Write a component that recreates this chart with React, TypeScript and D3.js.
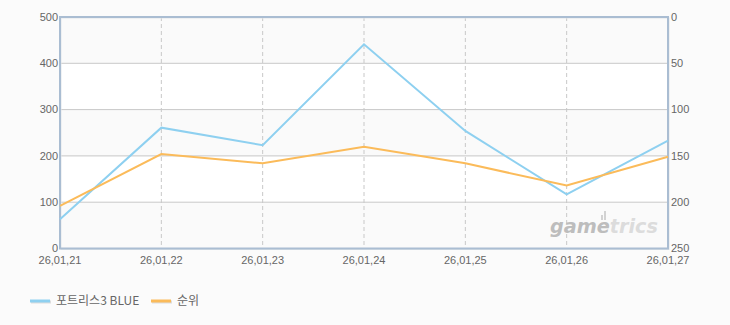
import React from "react";
import * as d3 from "d3";

const categories = ["26,01,21", "26,01,22", "26,01,23", "26,01,24", "26,01,25", "26,01,26", "26,01,27"];
const blueSeries = [63, 261, 223, 441, 254, 117, 233];
const rankSeries = [204, 148, 158, 140, 158, 182, 151];
const leftTicks = [0, 100, 200, 300, 400, 500];
const rightTicks = [0, 50, 100, 150, 200, 250];
const seriesNames = ["포트리스3 BLUE", "순위"];

const W = 730, H = 325;
const L = 60, R = 668, T = 17, B = 248.5;
const BLUE = "#8ed0f0";
const ORANGE = "#fbbb5a";
const FONT = "'Liberation Sans', Arial, sans-serif";

export default function App() {
  const x = d3.scalePoint<string>().domain(categories).range([L, R]);
  const yL = d3.scaleLinear().domain([0, 500]).range([B, T]);
  const yR = d3.scaleLinear().domain([0, 250]).range([T, B]);
  const lineL = d3.line<number>().x((_, i) => x(categories[i])!).y((d) => yL(d));
  const lineR = d3.line<number>().x((_, i) => x(categories[i])!).y((d) => yR(d));

  const bands = leftTicks.slice(0, -1).map((v, i) => ({ v0: v, v1: leftTicks[i + 1], shade: i % 2 === 0 }));

  return (
    <svg width={W} height={H} style={{ position: "fixed", left: 0, top: 0, background: "#fbfbfb" }} fontFamily={FONT}>
      <rect x={0} y={0} width={W} height={H} fill="#fbfbfb" />
      {bands.map((b, i) => (
        <rect key={i} x={L} y={yL(b.v1)} width={R - L} height={yL(b.v0) - yL(b.v1)} fill={b.shade ? "#fafafa" : "#ffffff"} />
      ))}
      {leftTicks.slice(1, -1).map((v) => (
        <line key={v} x1={L} x2={R} y1={yL(v)} y2={yL(v)} stroke="#c8c8c8" strokeWidth={1} />
      ))}
      {categories.slice(1, -1).map((c) => (
        <line key={c} x1={x(c)!} x2={x(c)!} y1={T} y2={B} stroke="#c8c8c8" strokeWidth={1} strokeDasharray="4,3" />
      ))}
      {/* watermark */}
      <g fontStyle="italic" fontWeight="bold" fontSize={20} fontFamily="'DejaVu Sans', sans-serif">
        <text x={550} y={233} fill="#bdbdbd" textLength={108} lengthAdjust="spacingAndGlyphs">
          game<tspan fill="#dcdcdc">trics</tspan>
        </text>
        <rect x={601} y={215} width={2} height={5} fill="#d2d2d2" />
        <rect x={604} y={211} width={2} height={9} fill="#d2d2d2" />
      </g>
      {/* frame */}
      <rect x={L + 1} y={T + 1} width={R - L} height={B - T} fill="none" stroke="#e2e6ea" strokeWidth={1} />
      <rect x={L} y={T} width={R - L} height={B - T} fill="none" stroke="#aabdd2" strokeWidth={2} />
      <path d={lineL(blueSeries)!} fill="none" stroke={BLUE} strokeWidth={2} />
      <path d={lineR(rankSeries)!} fill="none" stroke={ORANGE} strokeWidth={2} />
      {leftTicks.map((v) => (
        <text key={v} x={L - 2} y={yL(v)} dy="0.35em" textAnchor="end" fontSize={11} fill="#666">{v}</text>
      ))}
      {rightTicks.map((v) => (
        <text key={v} x={R + 3} y={yR(v)} dy="0.35em" textAnchor="start" fontSize={11} fill="#666">{v}</text>
      ))}
      {categories.map((c) => (
        <text key={c} x={x(c)!} y={B + 15} textAnchor="middle" fontSize={11} fill="#666">{c}</text>
      ))}
      {/* legend */}
      <g>
        <line x1={31} x2={51} y1={302} y2={302} stroke="#dddddd" strokeWidth={3} />
        <line x1={30} x2={50} y1={301} y2={301} stroke={BLUE} strokeWidth={3} />
        <text x={56} y={301} dy="0.35em" fontSize={12} fill="#666" fontFamily="'Noto Sans CJK KR', sans-serif">{seriesNames[0]}</text>
        <line x1={152} x2={172} y1={302} y2={302} stroke="#dddddd" strokeWidth={3} />
        <line x1={151} x2={171} y1={301} y2={301} stroke={ORANGE} strokeWidth={3} />
        <text x={177} y={301} dy="0.35em" fontSize={12} fill="#666" fontFamily="'Noto Sans CJK KR', sans-serif">{seriesNames[1]}</text>
      </g>
    </svg>
  );
}
